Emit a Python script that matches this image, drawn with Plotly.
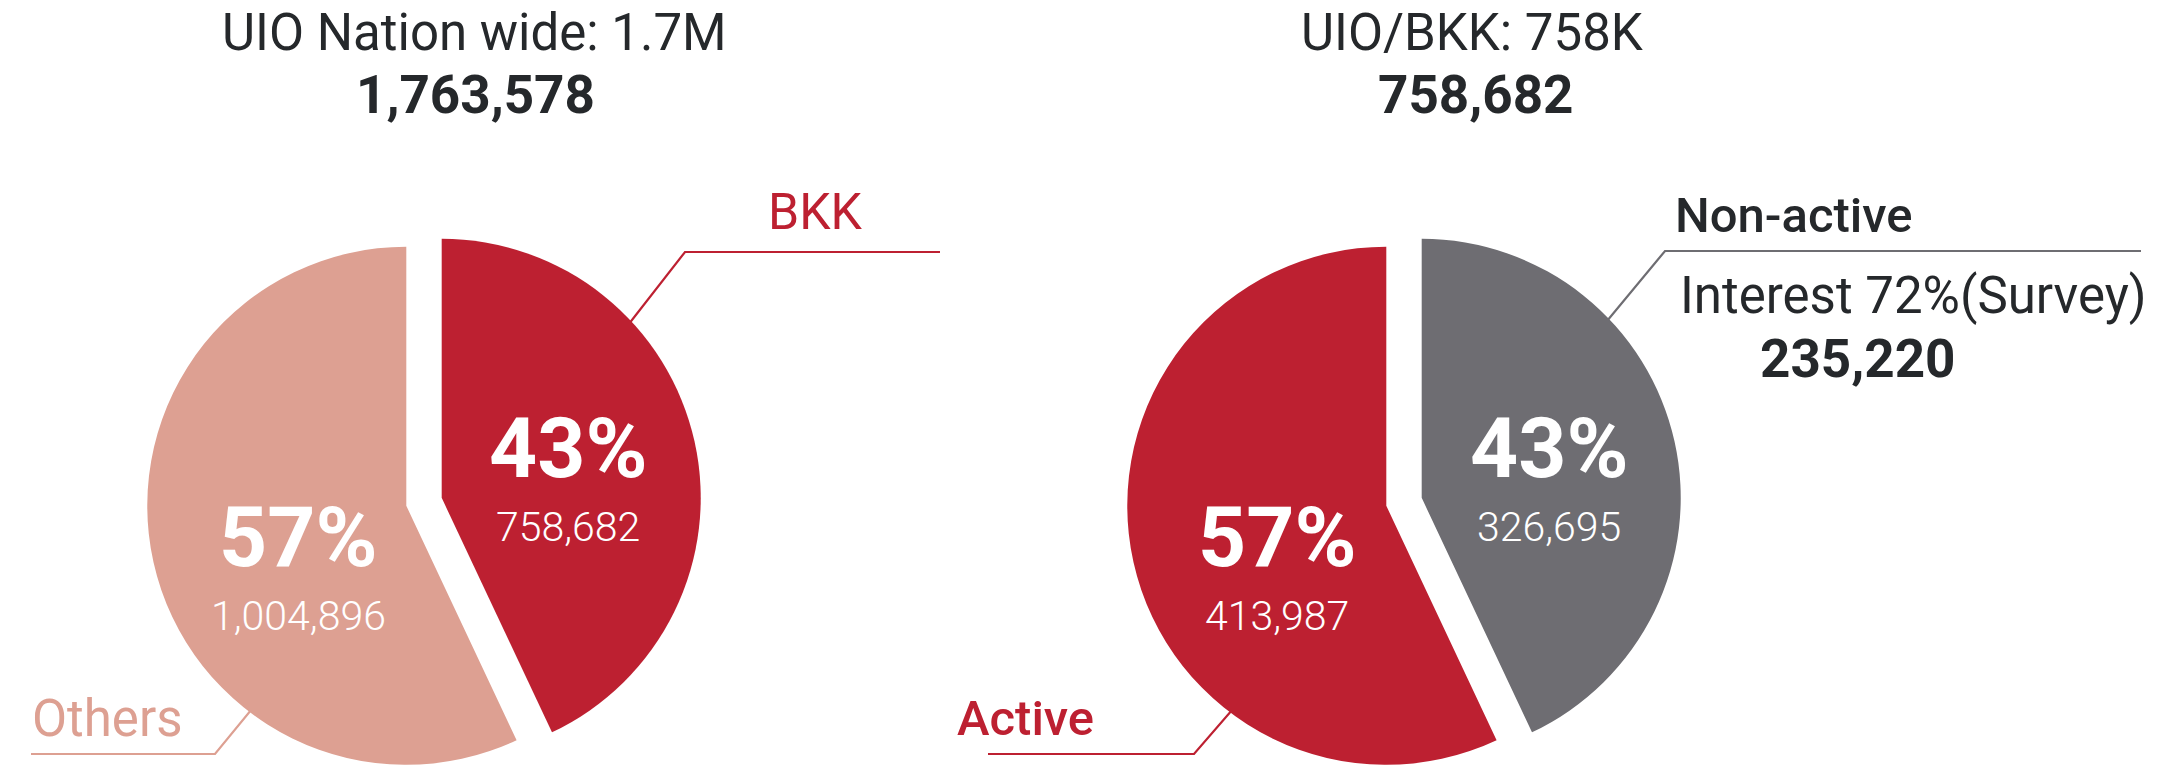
import plotly.graph_objects as go

# ---------------- data ----------------
nation_labels = ["BKK", "Others"]
nation_pct = [43, 57]
nation_counts = [758682, 1004896]
nation_title = "UIO Nation wide: 1.7M"
nation_total = 1763578

bkk_labels = ["Non-active", "Active"]
bkk_pct = [43, 57]
bkk_counts = [326695, 413987]
bkk_title = "UIO/BKK: 758K"
bkk_total = 758682

interest_pct = 72
interest_count = 235220

nation_colors = ["#BD2031", "#DDA092"]
bkk_colors = ["#6E6D72", "#BD2031"]

# ---------------- layout helpers ----------------
W, H = 2177, 779
TXT = "#25282B"
FONT = "Roboto"
PULL = 0.07
R = 262


def px(x):
    return x / W


def py(y):
    return 1 - y / H


def domain(cx, cy):
    half = R * (1 + PULL)
    cyb = H - cy
    return dict(x=[(cx - half) / W, (cx + half) / W],
                y=[max(0, (cyb - half) / H), min(1, (cyb + half) / H)])


fig = go.Figure()

for labels, vals, cols, cx in [(nation_labels, nation_pct, nation_colors, 424),
                               (bkk_labels, bkk_pct, bkk_colors, 1404)]:
    fig.add_trace(go.Pie(
        labels=labels, values=vals, sort=False, direction="clockwise", rotation=0,
        marker=dict(colors=cols, line=dict(width=0)),
        pull=[PULL] * len(vals), textinfo="none", hoverinfo="label+value",
        domain=domain(cx, 505), showlegend=False,
    ))

ann = []


def text(x, y, s, size, color=TXT, weight=None, yanchor="middle"):
    f = dict(family=FONT, size=size, color=color)
    if weight:
        f["weight"] = weight
    ann.append(dict(x=px(x), y=py(y), xref="paper", yref="paper", text=s,
                    showarrow=False, xanchor="center", yanchor=yanchor, font=f))


# titles
text(474, 32, nation_title, 51)
text(475, 95, f"<b>{nation_total:,}</b>", 53)
text(1472, 32, bkk_title, 51)
text(1476, 95, f"<b>{bkk_total:,}</b>", 53)

# slice labels: percent above, count below
slice_pos = [((568, 500), (298, 589)), ((1549, 500), (1277, 589))]
for (pcts, counts), pos in zip([(nation_pct, nation_counts), (bkk_pct, bkk_counts)], slice_pos):
    for p, c, (x, y) in zip(pcts, counts, pos):
        text(x, y, f"<b>{p}%</b>", 84, "white", yanchor="bottom")
        text(x, y + 1, f"{c:,}", 41, "white", weight=300, yanchor="top")

# callout labels
text(815, 212, nation_labels[0], 50, nation_colors[0])
text(107, 718, nation_labels[1], 51, nation_colors[1])
text(1794, 215, bkk_labels[0], 49, TXT, weight=500)
text(1025, 718, bkk_labels[1], 49, bkk_colors[1], weight=500)
text(1913, 296, f"Interest {interest_pct}%(Survey)", 51)
text(1858, 359, f"<b>{interest_count:,}</b>", 53)

shapes = []


def leader(pts, color):
    path = "M " + " L ".join(f"{px(x)},{py(y)}" for x, y in pts)
    shapes.append(dict(type="path", path=path, xref="paper", yref="paper",
                       line=dict(color=color, width=2.2), layer="below"))


leader([(940, 252), (685, 252), (600, 361)], nation_colors[0])
leader([(31, 754), (215, 754), (270, 687)], nation_colors[1])
leader([(2141, 251), (1665, 251), (1578, 356)], "#6E6D72")
leader([(988, 754), (1194, 754), (1252, 687)], bkk_colors[1])

fig.update_layout(
    width=W, height=H, margin=dict(l=0, r=0, t=0, b=0),
    paper_bgcolor="white", plot_bgcolor="white",
    annotations=ann, shapes=shapes,
)

fig.write_html("out.html", config={"displayModeBar": False},
               post_script="document.body.style.margin = '0px';")
